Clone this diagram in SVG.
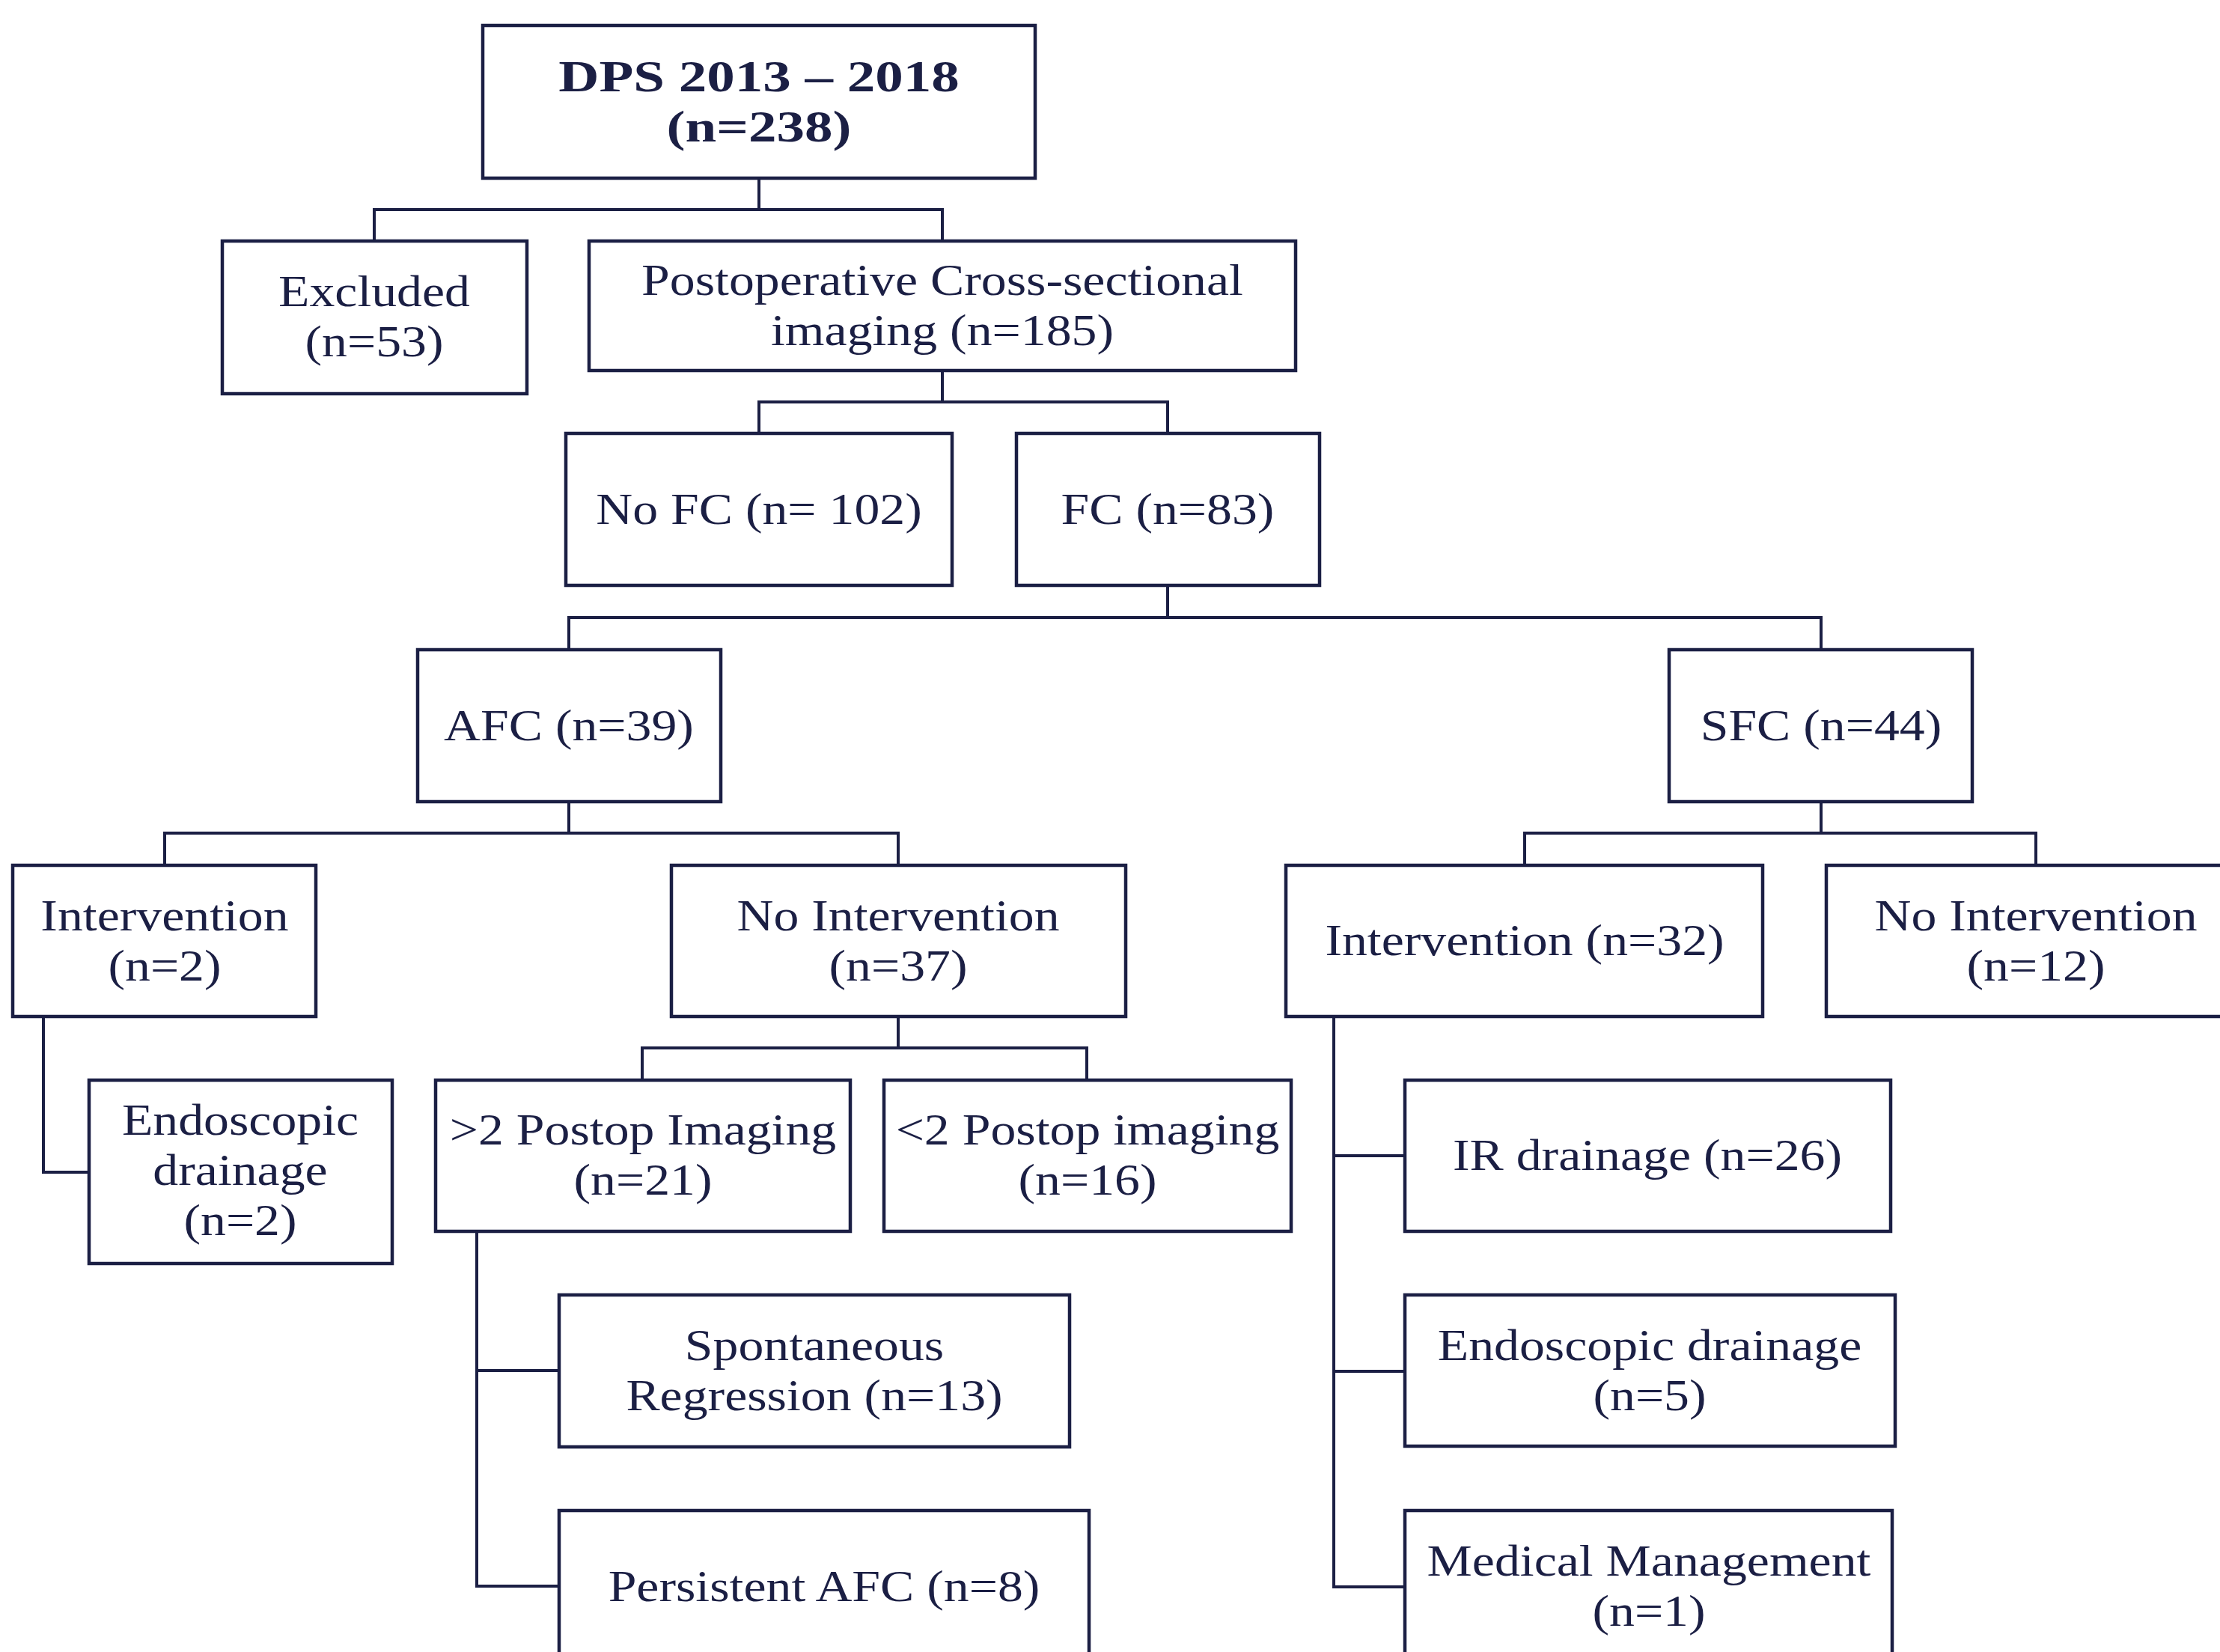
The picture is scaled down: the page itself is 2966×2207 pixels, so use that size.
<svg xmlns="http://www.w3.org/2000/svg" width="2966" height="2207" viewBox="0 0 2966 2207">
<style>
.box{fill:#ffffff;stroke:#1b1f44;stroke-width:4.5}
.con{fill:none;stroke:#1b1f44;stroke-width:4;stroke-linejoin:miter;stroke-linecap:square}
text{font-family:"Liberation Serif","Times New Roman",serif;font-size:60px;fill:#1b1f44;text-anchor:middle}
.b{font-weight:bold}
</style>
<rect x="0" y="0" width="2966" height="2207" fill="#ffffff"/>
<g id="connectors">
<path class="con" d="M1014 238V280M500 322V280H1259V322"/>
<path class="con" d="M1259 495V537M1014 579V537H1560V579"/>
<path class="con" d="M1560 782V825M760 868V825H2433V868"/>
<path class="con" d="M760 1071V1113M220 1156V1113H1200V1156"/>
<path class="con" d="M2433 1071V1113M2037 1156V1113H2720V1156"/>
<path class="con" d="M58 1358V1566H119"/>
<path class="con" d="M1200 1358V1400M858 1443V1400H1452V1443"/>
<path class="con" d="M637 1645V2119H747M637 1831H747"/>
<path class="con" d="M1782 1358V2120H1877M1782 1544H1877M1782 1832H1877"/>
</g>
<g id="root"><rect class="box" x="645" y="34" width="738" height="204"/><text class="b" transform="translate(1014 0) scale(1.25 1)" x="0" y="122">DPS 2013 – 2018<tspan x="0" dy="67">(n=238)</tspan></text></g>
<g id="excluded"><rect class="box" x="297" y="322" width="407" height="204"/><text transform="translate(500 0) scale(1.13 1)" x="0" y="409">Excluded<tspan x="0" dy="67">(n=53)</tspan></text></g>
<g id="postop"><rect class="box" x="787" y="322" width="944" height="173"/><text transform="translate(1259 0) scale(1.13 1)" x="0" y="394">Postoperative Cross-sectional<tspan x="0" dy="67">imaging (n=185)</tspan></text></g>
<g id="nofc"><rect class="box" x="756" y="579" width="516" height="203"/><text transform="translate(1014 0) scale(1.13 1)" x="0" y="700">No FC (n= 102)</text></g>
<g id="fc"><rect class="box" x="1358" y="579" width="405" height="203"/><text transform="translate(1560 0) scale(1.13 1)" x="0" y="700">FC (n=83)</text></g>
<g id="afc"><rect class="box" x="558" y="868" width="405" height="203"/><text transform="translate(760 0) scale(1.13 1)" x="0" y="989">AFC (n=39)</text></g>
<g id="sfc"><rect class="box" x="2230" y="868" width="405" height="203"/><text transform="translate(2433 0) scale(1.13 1)" x="0" y="989">SFC (n=44)</text></g>
<g id="afc-intervention"><rect class="box" x="17" y="1156" width="405" height="202"/><text transform="translate(220 0) scale(1.13 1)" x="0" y="1243">Intervention<tspan x="0" dy="67">(n=2)</tspan></text></g>
<g id="afc-nointervention"><rect class="box" x="897" y="1156" width="607" height="202"/><text transform="translate(1200 0) scale(1.13 1)" x="0" y="1243">No Intervention<tspan x="0" dy="67">(n=37)</tspan></text></g>
<g id="sfc-intervention"><rect class="box" x="1718" y="1156" width="637" height="202"/><text transform="translate(2037 0) scale(1.13 1)" x="0" y="1276">Intervention (n=32)</text></g>
<g id="sfc-nointervention"><rect class="box" x="2440" y="1156" width="560" height="202"/><text transform="translate(2720 0) scale(1.13 1)" x="0" y="1243">No Intervention<tspan x="0" dy="67">(n=12)</tspan></text></g>
<g id="afc-endo"><rect class="box" x="119" y="1443" width="405" height="245"/><text transform="translate(321 0) scale(1.13 1)" x="0" y="1516">Endoscopic<tspan x="0" dy="67">drainage</tspan><tspan x="0" dy="67">(n=2)</tspan></text></g>
<g id="gt2"><rect class="box" x="582" y="1443" width="554" height="202"/><text transform="translate(859 0) scale(1.13 1)" x="0" y="1529">&gt;2 Postop Imaging<tspan x="0" dy="67">(n=21)</tspan></text></g>
<g id="lt2"><rect class="box" x="1181" y="1443" width="544" height="202"/><text transform="translate(1453 0) scale(1.13 1)" x="0" y="1529">&lt;2 Postop imaging<tspan x="0" dy="67">(n=16)</tspan></text></g>
<g id="ir"><rect class="box" x="1877" y="1443" width="649" height="202"/><text transform="translate(2201 0) scale(1.13 1)" x="0" y="1563">IR drainage (n=26)</text></g>
<g id="spont"><rect class="box" x="747" y="1730" width="682" height="203"/><text transform="translate(1088 0) scale(1.13 1)" x="0" y="1817">Spontaneous<tspan x="0" dy="67">Regression (n=13)</tspan></text></g>
<g id="sfc-endo"><rect class="box" x="1877" y="1730" width="655" height="202"/><text transform="translate(2204 0) scale(1.13 1)" x="0" y="1817">Endoscopic drainage<tspan x="0" dy="67">(n=5)</tspan></text></g>
<g id="persistent"><rect class="box" x="747" y="2018" width="708" height="204"/><text transform="translate(1101 0) scale(1.13 1)" x="0" y="2139">Persistent AFC (n=8)</text></g>
<g id="medical"><rect class="box" x="1877" y="2018" width="651" height="204"/><text transform="translate(2203 0) scale(1.13 1)" x="0" y="2105">Medical Management<tspan x="0" dy="67">(n=1)</tspan></text></g>
</svg>
